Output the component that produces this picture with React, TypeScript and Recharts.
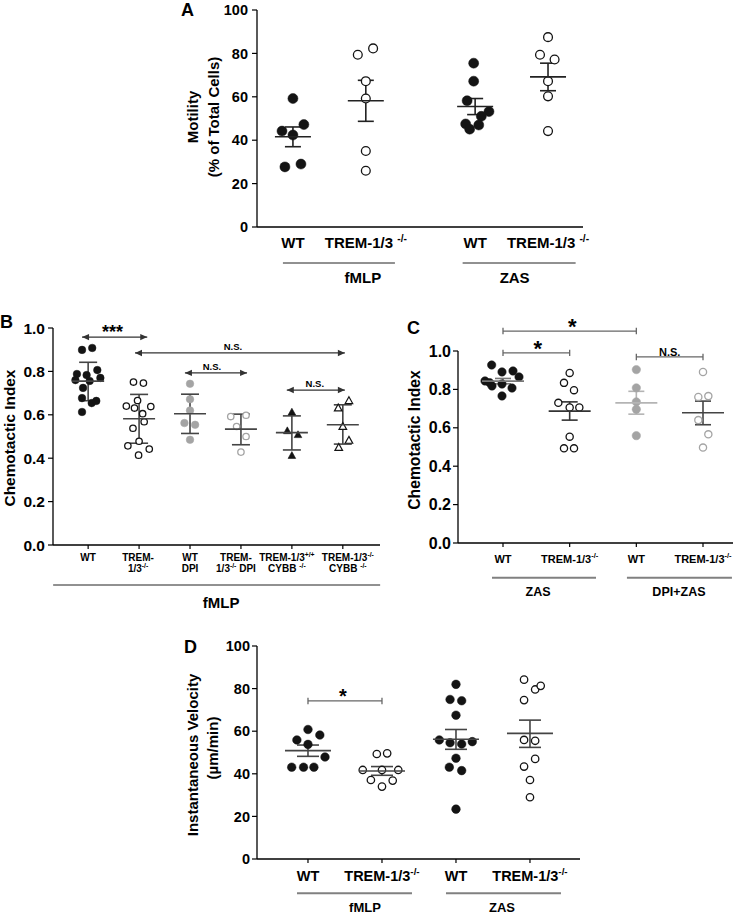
import React from 'react';
import { ScatterChart, Scatter, XAxis, YAxis, ErrorBar, ReferenceLine } from 'recharts';

const FONT = '"Liberation Sans", Arial, Helvetica, sans-serif';

/* ---------------- Panel A : Motility ---------------- */
const A_CAT_POS = [1, 2, 3.5, 4.5];
const A_CAT_LABELS = ['WT', 'TREM-1/3 ^{-/-}', 'WT', 'TREM-1/3 ^{-/-}'];
const A_GROUP_START = [0, 2];
const A_GROUP_LABELS = ['fMLP', 'ZAS'];
const A_Y_TICKS = [0, 20, 40, 60, 80, 100];
const A_WT_FMLP = [59.2, 47.2, 44.2, 42.4, 27.7, 29.0];
const A_WT_FMLP_JIT = [0, 0.15, -0.15, 0, -0.11, 0.11];
const A_KO_FMLP = [82.3, 79.4, 67.2, 59.2, 35.0, 25.9];
const A_KO_FMLP_JIT = [0.1, -0.11, 0, 0, 0, 0];
const A_WT_ZAS = [75.5, 67.2, 58.2, 53.2, 51.0, 47.5, 47.0, 45.1];
const A_WT_ZAS_JIT = [-0.02, -0.02, -0.11, 0.19, 0.085, -0.13, 0.05, -0.075];
const A_KO_ZAS = [87.5, 79.4, 77.2, 67.2, 60.2, 44.2];
const A_KO_ZAS_JIT = [0, -0.11, 0.09, 0, 0, 0];
const A_MEAN = [41.6, 58.2, 55.5, 69.2];
const A_SEM_LO = [37.0, 48.7, 51.8, 62.8];
const A_SEM_HI = [46.1, 67.6, 59.2, 75.5];

/* ---------------- Panel B : Chemotactic index, fMLP ---------------- */
const B_CAT_POS = [1, 2, 3, 4, 5, 6];
const B_CAT_LABELS = [
  ['WT'],
  ['TREM-', '1/3^{-/-}'],
  ['WT', 'DPI'],
  ['TREM-', '1/3^{-/-} DPI'],
  ['TREM-1/3^{+/+}', 'CYBB ^{-/-}'],
  ['TREM-1/3^{-/-}', 'CYBB ^{-/-}'],
];
const B_GROUP_START = [0];
const B_GROUP_LABELS = ['fMLP'];
const B_Y_TICKS = [0, 0.2, 0.4, 0.6, 0.8, 1.0];
const B_WT = [0.899, 0.908, 0.788, 0.783, 0.806, 0.77, 0.76, 0.756, 0.724, 0.677, 0.654, 0.664, 0.613];
const B_WT_JIT = [-0.12, 0.08, -0.22, -0.03, 0.18, 0.24, -0.25, 0.03, -0.1, -0.12, 0.07, 0.16, -0.12];
const B_KO = [0.751, 0.746, 0.64, 0.666, 0.631, 0.605, 0.638, 0.538, 0.568, 0.457, 0.478, 0.442, 0.414];
const B_KO_JIT = [-0.11, 0.085, -0.25, -0.03, -0.09, 0.07, 0.23, -0.12, 0.1, -0.22, 0, 0.2, -0.01];
const B_WT_DPI = [0.743, 0.672, 0.62, 0.562, 0.554, 0.485];
const B_WT_DPI_JIT = [0, 0, 0, -0.11, 0.1, 0];
const B_KO_DPI = [0.592, 0.598, 0.546, 0.5, 0.428];
const B_KO_DPI_JIT = [-0.2, 0.1, -0.085, 0.1, 0];
const B_CYBB_WT = [0.612, 0.526, 0.508, 0.412];
const B_CYBB_WT_JIT = [0, -0.09, 0.12, 0];
const B_CYBB_KO = [0.631, 0.665, 0.546, 0.482, 0.449];
const B_CYBB_KO_JIT = [-0.09, 0.12, 0, 0.12, -0.08];
const B_MEAN = [0.755, 0.582, 0.605, 0.534, 0.518, 0.554];
const B_SD_LO = [0.665, 0.469, 0.514, 0.462, 0.438, 0.465];
const B_SD_HI = [0.842, 0.694, 0.695, 0.603, 0.595, 0.646];
const B_SIG_FROM = [0.88, 1.92, 2.9, 4.9];
const B_SIG_TO = [2.16, 6.04, 4.12, 6.04];
const B_SIG_Y = [0.958, 0.885, 0.793, 0.714];
const B_SIG_LABEL = ['***', 'N.S.', 'N.S.', 'N.S.'];

/* ---------------- Panel C : Chemotactic index, ZAS ---------------- */
const C_CAT_POS = [1, 2, 3, 4];
const C_CAT_LABELS = ['WT', 'TREM-1/3^{-/-}', 'WT', 'TREM-1/3^{-/-}'];
const C_GROUP_START = [0, 2];
const C_GROUP_LABELS = ['ZAS', 'DPI+ZAS'];
const C_Y_TICKS = [0, 0.2, 0.4, 0.6, 0.8, 1.0];
const C_WT = [0.927, 0.891, 0.896, 0.865, 0.844, 0.835, 0.818, 0.828, 0.807, 0.766];
const C_WT_JIT = [-0.17, -0.015, 0.15, 0.24, -0.27, -0.2, -0.165, -0.015, 0.135, -0.015];
const C_KO = [0.886, 0.834, 0.796, 0.73, 0.706, 0.706, 0.554, 0.493, 0.493];
const C_KO_JIT = [0, -0.085, 0.065, -0.17, 0, 0.145, 0, -0.085, 0.065];
const C_WT_DPI = [0.903, 0.808, 0.735, 0.696, 0.559];
const C_WT_DPI_JIT = [0, 0, 0, 0, 0];
const C_KO_DPI = [0.891, 0.761, 0.765, 0.64, 0.566, 0.497];
const C_KO_DPI_JIT = [0, -0.07, 0.08, -0.07, 0.08, 0];
const C_MEAN = [0.843, 0.687, 0.73, 0.678];
const C_SEM_LO = [0.829, 0.64, 0.671, 0.616];
const C_SEM_HI = [0.857, 0.735, 0.79, 0.739];
const C_SIG_FROM = [1, 1, 3];
const C_SIG_TO = [3, 2, 4];
const C_SIG_Y = [1.104, 0.99, 0.969];
const C_SIG_LABEL = ['*', '*', 'N.S.'];

/* ---------------- Panel D : Instantaneous velocity ---------------- */
const D_CAT_POS = [1, 2, 3, 4];
const D_CAT_LABELS = ['WT', 'TREM-1/3^{-/-}', 'WT', 'TREM-1/3^{-/-}'];
const D_GROUP_START = [0, 2];
const D_GROUP_LABELS = ['fMLP', 'ZAS'];
const D_Y_TICKS = [0, 20, 40, 60, 80, 100];
const D_WT_FMLP = [60.8, 55.9, 58.2, 53.8, 47.9, 43.1, 43.1, 43.1];
const D_WT_FMLP_JIT = [0, -0.15, 0.16, 0, 0.23, -0.22, -0.06, 0.08];
const D_KO_FMLP = [49.3, 49.6, 41.8, 41.8, 41.8, 37.1, 36.8, 34.0];
const D_KO_FMLP_JIT = [-0.07, 0.07, -0.26, 0, 0.22, -0.15, 0.145, 0];
const D_WT_ZAS = [82, 74.9, 74.3, 67.5, 55.9, 54.6, 54, 55.1, 47.3, 43.1, 41.5, 23.4];
const D_WT_ZAS_JIT = [0, -0.08, 0.077, 0, -0.225, -0.08, 0.077, 0.22, 0, -0.09, 0.077, 0];
const D_KO_ZAS = [84.2, 79.6, 81.3, 74.6, 55.9, 55.5, 47, 43.4, 37.1, 29];
const D_KO_ZAS_JIT = [-0.08, 0.07, 0.145, -0.08, -0.08, 0.07, 0.07, -0.08, 0, 0];
const D_MEAN = [50.9, 41.3, 56.2, 59.0];
const D_SEM_LO = [48.2, 39.3, 51.5, 52.4];
const D_SEM_HI = [53.5, 43.4, 60.8, 65.2];
const D_SIG_FROM = [1];
const D_SIG_TO = [2];
const D_SIG_Y = [74.2];
const D_SIG_LABEL = ['*'];

/* ---------------- helpers ---------------- */
const BLACK = '#141414';
const GRAY = '#a4a4a4';

type Kind = 'fill' | 'open' | 'grayFill' | 'grayOpen' | 'triFill' | 'triOpen';

const pts = (pos: number, vals: number[], jit: number[]) =>
  vals.map((v, i) => ({ x: pos + (jit[i] || 0), y: v }));

const summaryRows = (pos: number[], mean: number[], lo: number[], hi: number[]) =>
  pos.map((p, i) => ({ x: p, y: mean[i], err: [mean[i] - lo[i], hi[i] - mean[i]] }));

const sigRows = (from: number[], to: number[], y: number[], label: string[]) =>
  from.map((f, i) => ({ from: f, to: to[i], y: y[i], label: label[i] }));

function makeMarker(kind: Kind, r: number) {
  return (p: any) => {
    const cx = p.cx;
    const cy = p.cy;
    if (typeof cx !== 'number' || typeof cy !== 'number') return <g />;
    if (kind === 'triFill' || kind === 'triOpen') {
      const d = `M${cx},${cy - r * 1.05} L${cx + r},${cy + r * 0.75} L${cx - r},${cy + r * 0.75} Z`;
      return kind === 'triFill' ? (
        <path d={d} fill={BLACK} stroke={BLACK} strokeWidth={0.6} />
      ) : (
        <path d={d} fill="#fff" stroke={BLACK} strokeWidth={1.2} />
      );
    }
    const open = kind === 'open' || kind === 'grayOpen';
    const grey = kind === 'grayFill' || kind === 'grayOpen';
    const stroke = grey ? GRAY : BLACK;
    const fill = open ? '#fff' : stroke;
    return (
      <circle cx={cx} cy={cy} r={open ? r - 0.6 : r} fill={fill} stroke={stroke} strokeWidth={open ? 1.3 : 0.5} />
    );
  };
}

function RichText({ x, y, text, fontSize }: { x: number; y: number; text: string; fontSize: number }) {
  const parts = text.split(/(\^\{[^}]*\})/).filter((s) => s.length > 0);
  const rise = fontSize * 0.4;
  let raised = false;
  return (
    <text x={x} y={y} textAnchor="middle" fontSize={fontSize} fontWeight="bold" fill="#000" fontFamily={FONT} style={{ whiteSpace: 'pre' }}>
      {parts.map((s, i) => {
        if (s.startsWith('^{')) {
          raised = true;
          return (
            <tspan key={i} dy={-rise} fontSize={fontSize * 0.68}>
              {s.slice(2, -1)}
            </tspan>
          );
        }
        const dy = raised ? rise : 0;
        raised = false;
        return (
          <tspan key={i} dy={dy}>
            {s}
          </tspan>
        );
      })}
    </text>
  );
}

type GroupSpec = { l: number; r: number; dx: number };

type PanelProps = {
  left: number;
  top: number;
  width: number;
  height: number;
  margin: { top: number; right: number; bottom: number; left: number };
  yWidth: number;
  yDomain: [number, number];
  yTicks: number[];
  yFont: number;
  yTickMargin: number;
  yFmt: (v: number) => string;
  xDomain: [number, number];
  catPos: number[];
  catLabels: (string | string[])[];
  catFont: number;
  catHeight: number;
  catTickSize: number;
  catTickLine: boolean;
  catDys: number[];
  catDx: number[];
  groupStart: number[];
  groupLabels: string[];
  groupSpec: GroupSpec[];
  groupLineDy: number;
  groupTextDy: number;
  groupFont: number;
  groupColor: string;
  groupStroke: number;
  series: { data: { x: number; y: number }[]; kind: Kind }[];
  r: number;
  summary: { x: number; y: number; err: number[] }[];
  summaryColors: string[];
  meanHalf: number;
  capHalf: number;
  sig: { from: number; to: number; y: number; label: string }[];
  sigStyle: 'arrow' | 'bracket';
  sigColor: string;
  starFont: number;
  starDy: number;
  nsFont: number;
  nsDy: number;
  sigDx: number[];
};

function Panel(p: PanelProps) {
  const catTick = (props: any) => {
    const { x, y, payload } = props;
    const idx = p.catPos.findIndex((v) => Math.abs(v - payload.value) < 1e-6);
    const lab = p.catLabels[idx];
    if (lab === undefined) return <g />;
    const lines = Array.isArray(lab) ? lab : [lab];
    const gi = p.groupStart.indexOf(idx);
    const g = gi >= 0 ? p.groupSpec[gi] : null;
    const dx = p.catDx[idx] || 0;
    return (
      <g>
        {lines.map((l, i) => (
          <RichText key={i} x={x + dx} y={y + p.catDys[i]} text={l} fontSize={p.catFont} />
        ))}
        {g ? (
          <g>
            <line x1={x - g.l} x2={x + g.r} y1={y + p.groupLineDy} y2={y + p.groupLineDy} stroke={p.groupColor} strokeWidth={p.groupStroke} />
            <text x={x + g.dx} y={y + p.groupTextDy} textAnchor="middle" fontSize={p.groupFont} fontWeight="bold" fill="#000" fontFamily={FONT}>
              {p.groupLabels[gi]}
            </text>
          </g>
        ) : null}
      </g>
    );
  };
  const meanShape = (half: number, color: string) => (sp: any) => {
    if (typeof sp.cx !== 'number') return <g />;
    return <line x1={sp.cx - half} x2={sp.cx + half} y1={sp.cy} y2={sp.cy} stroke={color} strokeWidth={1.6} />;
  };
  const sigShape = (s: { label: string }, i: number) => (lp: any) => {
    const x1 = Math.min(lp.x1, lp.x2);
    const x2 = Math.max(lp.x1, lp.x2);
    const y = lp.y1;
    const c = p.sigColor;
    const star = s.label.indexOf('*') >= 0;
    return (
      <g>
        <line x1={x1} x2={x2} y1={y} y2={y} stroke={c} strokeWidth={1.3} />
        {p.sigStyle === 'arrow' ? (
          <g>
            <path d={`M${x1},${y} l7,-3.2 l0,6.4 z`} fill={c} />
            <path d={`M${x2},${y} l-7,-3.2 l0,6.4 z`} fill={c} />
          </g>
        ) : (
          <g>
            <line x1={x1} x2={x1} y1={y - 3.2} y2={y + 3.2} stroke={c} strokeWidth={1.3} />
            <line x1={x2} x2={x2} y1={y - 3.2} y2={y + 3.2} stroke={c} strokeWidth={1.3} />
          </g>
        )}
        <text
          x={(x1 + x2) / 2 + (p.sigDx[i] || 0)}
          y={y + (star ? p.starDy : p.nsDy)}
          textAnchor="middle"
          fontSize={star ? p.starFont : p.nsFont}
          fontWeight="bold"
          fill="#000"
          fontFamily={FONT}
        >
          {s.label}
        </text>
      </g>
    );
  };

  return (
    <div style={{ position: 'absolute', left: p.left, top: p.top, fontFamily: FONT }}>
      <ScatterChart width={p.width} height={p.height} margin={p.margin}>
        <XAxis
          xAxisId="c"
          type="number"
          dataKey="x"
          domain={p.xDomain}
          ticks={p.catPos}
          interval={0}
          allowDataOverflow
          height={p.catHeight}
          tickSize={p.catTickSize}
          tickMargin={0}
          tickLine={p.catTickLine ? { stroke: '#000', strokeWidth: 1.2 } : false}
          axisLine={{ stroke: '#000', strokeWidth: 1.3 }}
          tick={catTick}
        />
        <YAxis
          type="number"
          dataKey="y"
          domain={p.yDomain}
          ticks={p.yTicks}
          interval={0}
          allowDataOverflow
          width={p.yWidth}
          tickSize={5}
          tickMargin={p.yTickMargin}
          tickLine={{ stroke: '#000', strokeWidth: 1.2 }}
          axisLine={{ stroke: '#000', strokeWidth: 1.3 }}
          tick={{ fill: '#000', fontSize: p.yFont, fontWeight: 'bold', fontFamily: FONT }}
          tickFormatter={p.yFmt}
        />
        {p.series.map((s, i) => (
          <Scatter key={'s' + i} xAxisId="c" data={s.data} shape={makeMarker(s.kind, p.r)} isAnimationActive={false} />
        ))}
        {p.summary.map((row, i) => (
          <Scatter
            key={'m' + i}
            xAxisId="c"
            data={[row]}
            shape={meanShape(p.meanHalf, p.summaryColors[i])}
            isAnimationActive={false}
          >
            <ErrorBar dataKey="err" direction="y" width={p.capHalf} stroke={p.summaryColors[i]} strokeWidth={1.6} />
          </Scatter>
        ))}
        {p.sig.map((s, i) => (
          <ReferenceLine
            key={'r' + i}
            xAxisId="c"
            ifOverflow="visible"
            segment={[
              { x: s.from, y: s.y },
              { x: s.to, y: s.y },
            ]}
            shape={sigShape(s, i)}
          />
        ))}
      </ScatterChart>
    </div>
  );
}

const fmtInt = (v: number) => String(v);
const fmt1 = (v: number) => v.toFixed(1);

export default function App() {
  return (
    <div style={{ position: 'absolute', left: 0, top: 0, width: 748, height: 914, background: '#fff', overflow: 'hidden' }}>
      {/* Panel A */}
      <Panel
        left={180}
        top={0}
        width={420}
        height={300}
        margin={{ top: 10, right: 17, bottom: 0, left: 0 }}
        yWidth={77}
        yDomain={[0, 100]}
        yTicks={A_Y_TICKS}
        yFont={14.5}
        yTickMargin={4}
        yFmt={fmtInt}
        xDomain={[0.507, 4.98]}
        catPos={A_CAT_POS}
        catLabels={A_CAT_LABELS}
        catFont={15}
        catHeight={73}
        catTickSize={0}
        catTickLine={false}
        catDys={[21.4]}
        catDx={[]}
        groupStart={A_GROUP_START}
        groupLabels={A_GROUP_LABELS}
        groupSpec={[
          { l: 10, r: 102, dx: 70 },
          { l: 12.5, r: 100.5, dx: 39.5 },
        ]}
        groupLineDy={36}
        groupTextDy={56}
        groupFont={15}
        groupColor="#222"
        groupStroke={1}
        series={[
          { data: pts(A_CAT_POS[0], A_WT_FMLP, A_WT_FMLP_JIT), kind: 'fill' },
          { data: pts(A_CAT_POS[1], A_KO_FMLP, A_KO_FMLP_JIT), kind: 'open' },
          { data: pts(A_CAT_POS[2], A_WT_ZAS, A_WT_ZAS_JIT), kind: 'fill' },
          { data: pts(A_CAT_POS[3], A_KO_ZAS, A_KO_ZAS_JIT), kind: 'open' },
        ]}
        r={5}
        summary={summaryRows(A_CAT_POS, A_MEAN, A_SEM_LO, A_SEM_HI)}
        summaryColors={['#222', '#222', '#222', '#222']}
        meanHalf={18}
        capHalf={8}
        sig={[]}
        sigStyle="bracket"
        sigColor="#333"
        starFont={20}
        starDy={2}
        nsFont={10}
        nsDy={-3}
        sigDx={[]}
      />
      {/* Panel B */}
      <Panel
        left={0}
        top={310}
        width={400}
        height={300}
        margin={{ top: 18, right: 20, bottom: 0, left: 0 }}
        yWidth={53}
        yDomain={[0, 1]}
        yTicks={B_Y_TICKS}
        yFont={15.5}
        yTickMargin={3}
        yFmt={fmt1}
        xDomain={[0.31, 6.73]}
        catPos={B_CAT_POS}
        catLabels={B_CAT_LABELS}
        catFont={10}
        catHeight={65}
        catTickSize={4}
        catTickLine={true}
        catDys={[11.6, 22.6]}
        catDx={[0, -1, 0, -5, -5, 5]}
        groupStart={B_GROUP_START}
        groupLabels={B_GROUP_LABELS}
        groupSpec={[{ l: 35, r: 292, dx: 133 }]}
        groupLineDy={36}
        groupTextDy={58.5}
        groupFont={15}
        groupColor="#222"
        groupStroke={1}
        series={[
          { data: pts(B_CAT_POS[0], B_WT, B_WT_JIT), kind: 'fill' },
          { data: pts(B_CAT_POS[1], B_KO, B_KO_JIT), kind: 'open' },
          { data: pts(B_CAT_POS[2], B_WT_DPI, B_WT_DPI_JIT), kind: 'grayFill' },
          { data: pts(B_CAT_POS[3], B_KO_DPI, B_KO_DPI_JIT), kind: 'grayOpen' },
          { data: pts(B_CAT_POS[4], B_CYBB_WT, B_CYBB_WT_JIT), kind: 'triFill' },
          { data: pts(B_CAT_POS[5], B_CYBB_KO, B_CYBB_KO_JIT), kind: 'triOpen' },
        ]}
        r={3.8}
        summary={summaryRows(B_CAT_POS, B_MEAN, B_SD_LO, B_SD_HI)}
        summaryColors={['#444', '#444', '#444', '#444', '#444', '#444']}
        meanHalf={16}
        capHalf={9}
        sig={sigRows(B_SIG_FROM, B_SIG_TO, B_SIG_Y, B_SIG_LABEL)}
        sigStyle="arrow"
        sigColor="#333"
        starFont={18}
        starDy={1}
        nsFont={9.5}
        nsDy={-3}
        sigDx={[-2, -7, -4, -1]}
      />
      {/* Panel C */}
      <Panel
        left={400}
        top={310}
        width={348}
        height={300}
        margin={{ top: 41, right: 15, bottom: 0, left: 0 }}
        yWidth={58}
        yDomain={[0, 1]}
        yTicks={C_Y_TICKS}
        yFont={16}
        yTickMargin={2}
        yFmt={fmt1}
        xDomain={[0.325, 4.45]}
        catPos={C_CAT_POS}
        catLabels={C_CAT_LABELS}
        catFont={11}
        catHeight={67}
        catTickSize={4}
        catTickLine={true}
        catDys={[15.5]}
        catDx={[]}
        groupStart={C_GROUP_START}
        groupLabels={C_GROUP_LABELS}
        groupSpec={[
          { l: 11, r: 93, dx: 35 },
          { l: 9.4, r: 95.6, dx: 42.6 },
        ]}
        groupLineDy={30.7}
        groupTextDy={49}
        groupFont={12.5}
        groupColor="#808080"
        groupStroke={2}
        series={[
          { data: pts(C_CAT_POS[0], C_WT, C_WT_JIT), kind: 'fill' },
          { data: pts(C_CAT_POS[1], C_KO, C_KO_JIT), kind: 'open' },
          { data: pts(C_CAT_POS[2], C_WT_DPI, C_WT_DPI_JIT), kind: 'grayFill' },
          { data: pts(C_CAT_POS[3], C_KO_DPI, C_KO_DPI_JIT), kind: 'grayOpen' },
        ]}
        r={4.2}
        summary={summaryRows(C_CAT_POS, C_MEAN, C_SEM_LO, C_SEM_HI)}
        summaryColors={['#777', '#333', '#b4b4b4', '#444']}
        meanHalf={21}
        capHalf={8}
        sig={sigRows(C_SIG_FROM, C_SIG_TO, C_SIG_Y, C_SIG_LABEL)}
        sigStyle="bracket"
        sigColor="#666"
        starFont={22}
        starDy={3}
        nsFont={11}
        nsDy={-1}
        sigDx={[2.5, 1.5, 0]}
      />
      {/* Panel D */}
      <Panel
        left={180}
        top={630}
        width={420}
        height={284}
        margin={{ top: 16, right: 20, bottom: 0, left: 0 }}
        yWidth={77}
        yDomain={[0, 100]}
        yTicks={D_Y_TICKS}
        yFont={14.5}
        yTickMargin={2}
        yFmt={fmtInt}
        xDomain={[0.311, 4.676]}
        catPos={D_CAT_POS}
        catLabels={D_CAT_LABELS}
        catFont={14.5}
        catHeight={55}
        catTickSize={4}
        catTickLine={true}
        catDys={[18]}
        catDx={[]}
        groupStart={D_GROUP_START}
        groupLabels={D_GROUP_LABELS}
        groupSpec={[
          { l: 11, r: 104, dx: 57 },
          { l: 10, r: 105, dx: 46 },
        ]}
        groupLineDy={30.3}
        groupTextDy={49}
        groupFont={13}
        groupColor="#808080"
        groupStroke={2}
        series={[
          { data: pts(D_CAT_POS[0], D_WT_FMLP, D_WT_FMLP_JIT), kind: 'fill' },
          { data: pts(D_CAT_POS[1], D_KO_FMLP, D_KO_FMLP_JIT), kind: 'open' },
          { data: pts(D_CAT_POS[2], D_WT_ZAS, D_WT_ZAS_JIT), kind: 'fill' },
          { data: pts(D_CAT_POS[3], D_KO_ZAS, D_KO_ZAS_JIT), kind: 'open' },
        ]}
        r={4.3}
        summary={summaryRows(D_CAT_POS, D_MEAN, D_SEM_LO, D_SEM_HI)}
        summaryColors={['#444', '#444', '#444', '#444']}
        meanHalf={23}
        capHalf={11}
        sig={sigRows(D_SIG_FROM, D_SIG_TO, D_SIG_Y, D_SIG_LABEL)}
        sigStyle="bracket"
        sigColor="#666"
        starFont={20}
        starDy={2}
        nsFont={10}
        nsDy={-3}
        sigDx={[-2]}
      />
      {/* panel letters and axis titles */}
      <svg width={748} height={914} style={{ position: 'absolute', left: 0, top: 0, pointerEvents: 'none' }}>
        <g fontFamily={FONT} fontWeight="bold" fill="#000">
          <text x={181} y={16} fontSize={18}>A</text>
          <text x={0} y={328} fontSize={18}>B</text>
          <text x={407} y={334} fontSize={18}>C</text>
          <text x={184} y={653} fontSize={18}>D</text>
          <text transform="translate(192.5,117) rotate(-90)" textAnchor="middle" dominantBaseline="central" fontSize={15}>Motility</text>
          <text transform="translate(213,117) rotate(-90)" textAnchor="middle" dominantBaseline="central" fontSize={15}>(% of Total Cells)</text>
          <text transform="translate(9,438) rotate(-90)" textAnchor="middle" dominantBaseline="central" fontSize={15.4}>Chemotactic Index</text>
          <text transform="translate(414,440) rotate(-90)" textAnchor="middle" dominantBaseline="central" fontSize={15.7}>Chemotactic Index</text>
          <text transform="translate(192.5,755) rotate(-90)" textAnchor="middle" dominantBaseline="central" fontSize={15}>Instantaneous Velocity</text>
          <text transform="translate(212.5,748) rotate(-90)" textAnchor="middle" dominantBaseline="central" fontSize={15}>(µm/min)</text>
        </g>
      </svg>
    </div>
  );
}
